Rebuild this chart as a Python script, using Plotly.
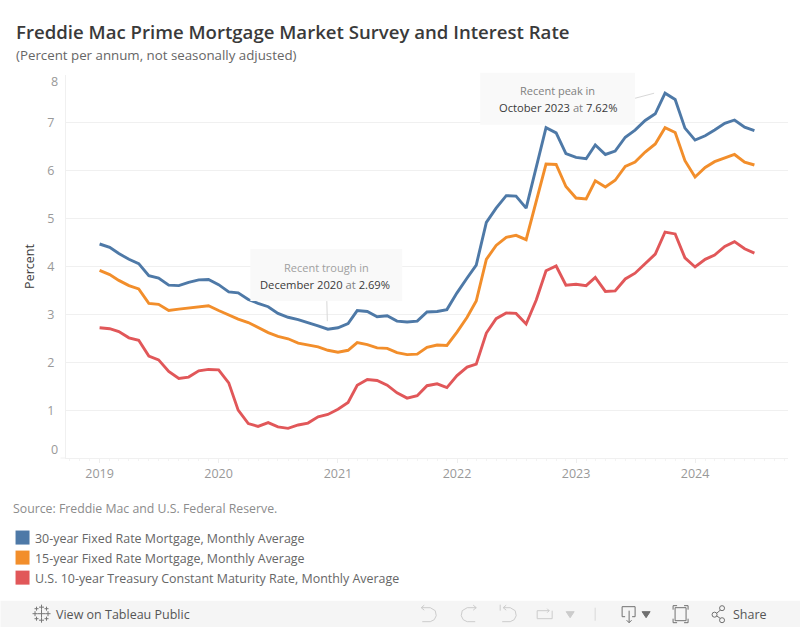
import plotly.graph_objects as go

months = [f"{y}-{m:02d}-01" for y in range(2019, 2025) for m in range(1, 13)][:67]

rate_30 = [4.47,4.40,4.27,4.15,4.06,3.81,3.76,3.61,3.60,3.67,3.72,3.73,
           3.62,3.47,3.45,3.31,3.23,3.16,3.02,2.94,2.89,2.83,2.76,2.69,
           2.72,2.81,3.08,3.06,2.95,2.97,2.86,2.84,2.86,3.05,3.06,3.10,
           3.45,3.76,4.03,4.92,5.22,5.48,5.47,5.22,6.07,6.90,6.79,6.36,
           6.28,6.25,6.54,6.34,6.41,6.70,6.85,7.05,7.19,7.62,7.49,6.89,
           6.64,6.73,6.85,6.99,7.06,6.91,6.84]
rate_15 = [3.92,3.83,3.71,3.60,3.53,3.23,3.21,3.08,3.11,3.13,3.16,3.18,
           3.08,2.98,2.90,2.83,2.72,2.62,2.54,2.49,2.40,2.36,2.32,2.25,
           2.21,2.25,2.41,2.37,2.30,2.29,2.20,2.16,2.17,2.31,2.36,2.35,
           2.63,2.94,3.28,4.15,4.44,4.61,4.65,4.56,5.35,6.14,6.13,5.67,
           5.43,5.41,5.79,5.66,5.80,6.09,6.18,6.39,6.56,6.90,6.80,6.21,
           5.87,6.07,6.19,6.26,6.34,6.18,6.12]
rate_10 = [2.72,2.70,2.64,2.51,2.46,2.13,2.05,1.81,1.66,1.69,1.82,1.85,
           1.84,1.57,1.00,0.72,0.66,0.74,0.65,0.62,0.69,0.73,0.86,0.91,
           1.02,1.16,1.52,1.64,1.62,1.52,1.36,1.25,1.30,1.51,1.55,1.47,
           1.72,1.90,1.96,2.61,2.91,3.03,3.02,2.80,3.30,3.91,4.01,3.61,
           3.63,3.60,3.77,3.48,3.49,3.74,3.86,4.07,4.26,4.72,4.68,4.18,
           3.99,4.15,4.24,4.42,4.52,4.37,4.28]

series_names = ["30-year Fixed Rate Mortgage, Monthly Average",
                "15-year Fixed Rate Mortgage, Monthly Average",
                "U.S. 10-year Treasury Constant Maturity Rate, Monthly Average"]
series_colors = ["#4e79a7", "#f28e2b", "#e15759"]
y_ticks = [1, 2, 3, 4, 5, 6, 7]

FONT = "Open Sans"
L, R, T, B = 65.5, 788.0, 75.3, 457.6
W, H = 800, 627
def px(x): return (x - L) / (R - L)
def py(y): return (B - y) / (B - T)

fig = go.Figure()
for vals, name, col in zip([rate_30, rate_15, rate_10], series_names, series_colors):
    fig.add_trace(go.Scatter(x=months, y=vals, mode="lines", name=name, showlegend=False,
                             line=dict(color=col, width=2.9), hoverinfo="x+y+name"))

shapes, annos = [], []
def rect(x0, y0, x1, y1, fill, layer="above"):
    shapes.append(dict(type="rect", xref="paper", yref="paper", x0=px(x0), x1=px(x1),
                       y0=py(y0), y1=py(y1), fillcolor=fill, line_width=0, layer=layer))
def seg(pts, color="#cfcfcf", width=1.0, close=False, fill=None):
    d = "M " + " L ".join(f"{px(a):.5f},{py(b):.5f}" for a, b in pts) + (" Z" if close else "")
    shapes.append(dict(type="path", xref="paper", yref="paper", path=d, layer="above",
                       line=dict(color=color, width=width), fillcolor=fill))
def text(x, y, s, size, color, anchor="left", weight=None, angle=0):
    f = dict(family=FONT, size=size, color=color)
    if weight: f["weight"] = weight
    annos.append(dict(xref="paper", yref="paper", x=px(x), y=py(y), text=s, showarrow=False,
                      xanchor=anchor, yanchor="middle", font=f, textangle=angle,
                      borderpad=0, borderwidth=0))

# Title block
text(15.5, 32, "Freddie Mac Prime Mortgage Market Survey and Interest Rate", 18.6, "#3a3a3a", weight=600)
text(15.5, 55, "(Percent per annum, not seasonally adjusted)", 13.3, "#666666")

# Clipped end tick labels sit inside the plot in the reference
text(57.5, 82, "8", 12.5, "#999999", "right")
text(57.5, 449, "0", 12.5, "#999999", "right")

# Callouts
rect(480, 73, 635, 125, "#f9f9f9")
seg([(635, 98.5), (654, 93.5)], "#d8d8d8")
text(557, 91, "Recent peak in", 11, "#808080", "center")
text(558, 108, "<span style='color:#3a3a3a'>October 2023</span> at <span style='color:#3a3a3a'>7.62%</span>",
     11.2, "#808080", "center", weight=500)
rect(250, 249, 402, 301, "#f9f9f9")
seg([(326.5, 301), (327, 321)], "#d8d8d8")
text(326, 267, "Recent trough in", 11, "#a0a0a0", "center")
text(325, 284, "<span style='color:#3a3a3a'>December 2020</span> at <span style='color:#3a3a3a'>2.69%</span>",
     11.2, "#808080", "center", weight=500)

# Source and legend
text(12, 508, "Source: Freddie Mac and U.S. Federal Reserve.", 12.3, "#8c8c8c")
for i, (name, col) in enumerate(zip(series_names, series_colors)):
    y0 = 530 + 20 * i
    rect(15, y0, 29, y0 + 14, col)
    text(34, y0 + 7.5, name, 12.45, "#666666")

# Left end of the baseline
seg([(60, B), (L, B)], "#f0f0f0", 1)

# Toolbar
rect(0, 600, 800, 627, "#f5f5f5", layer="below")
text(55, 613.5, "View on Tableau Public", 12.5, "#555555", weight=500)
text(733, 613.5, "Share", 12.5, "#555555", weight=500)
# Tableau mark
for cx, cy, r in [(41, 613, 4), (34.5, 613, 2.5), (47.5, 613, 2.5), (41, 606.5, 2.5), (41, 619.5, 2.5),
                  (36, 608, 2), (46, 608, 2), (36, 618, 2), (46, 618, 2)]:
    seg([(cx - r, cy), (cx + r, cy)], "#777777", 1)
    seg([(cx, cy - r), (cx, cy + r)], "#777777", 1)
# Undo, redo, revert, refresh
grey = "#cccccc"
seg([(421, 607), (430, 607), (435, 610), (436, 615), (434, 619), (430, 621), (422, 621)], grey)
seg([(421, 607), (424, 604.5)], grey); seg([(421, 607), (424, 609.5)], grey)
seg([(476, 607), (467, 607), (462, 610), (461, 615), (463, 619), (467, 621), (475, 621)], grey)
seg([(476, 607), (473, 604.5)], grey); seg([(476, 607), (473, 609.5)], grey)
seg([(503, 607), (510, 607), (515, 610), (516, 615), (514, 619), (510, 621), (502, 621)], grey)
seg([(500, 604), (500, 610)], grey); seg([(503, 607), (506, 604.5)], grey); seg([(503, 607), (506, 609.5)], grey)
seg([(552, 610), (552, 618), (537, 618), (537, 610), (549, 610)], grey)
seg([(549, 610), (547, 608)], grey); seg([(549, 610), (547, 612)], grey)
seg([(566, 611), (574, 611), (570, 617)], grey, close=True, fill=grey)
seg([(595, 607), (595, 620)], "#d8d8d8")
# Download, fullscreen, share
dark = "#707070"
seg([(625, 616), (622, 616), (622, 606), (635, 606), (635, 616), (632, 616)], dark)
seg([(629, 610), (629, 622)], dark); seg([(626.5, 619.5), (629, 622), (631.5, 619.5)], dark)
seg([(642, 611), (650, 611), (646, 617)], dark, close=True, fill=dark)
seg([(675, 607), (686, 607), (686, 620), (675, 620)], dark, close=True)
for a, b, c, d, e, f in [(673, 609, 673, 605, 677, 605), (684, 605, 688, 605, 688, 609),
                         (673, 618, 673, 622, 677, 622), (684, 622, 688, 622, 688, 618)]:
    seg([(a, b), (c, d), (e, f)], dark)
seg([(722, 608), (715, 614), (722, 619)], dark)
for cx, cy in [(722, 607.5), (714.5, 614), (722, 619.5)]:
    shapes.append(dict(type="circle", xref="paper", yref="paper", layer="above",
                       x0=px(cx - 2.5), x1=px(cx + 2.5), y0=py(cy - 2.5), y1=py(cy + 2.5),
                       line=dict(color=dark, width=1), fillcolor="#f5f5f5"))

fig.update_layout(
    width=W, height=H, autosize=False, paper_bgcolor="white", plot_bgcolor="white",
    margin=dict(l=L, r=W - R, t=T, b=H - B, pad=0),
    font=dict(family=FONT, color="#888888"), showlegend=False,
    shapes=shapes, annotations=annos,
    xaxis=dict(type="date", range=["2018-09-20", "2024-10-12"], tick0="2019-01-01", dtick="M12",
               tickformat="%Y", showgrid=False, zeroline=False, showline=True, linecolor="#f0f0f0",
               linewidth=1, ticks="outside", ticklen=4, tickcolor="#eeeeee",
               tickfont=dict(size=12.5, color="#999999", family=FONT),
               minor=dict(dtick="M1", tick0="2019-01-01", ticks="outside", ticklen=2,
                          tickcolor="#f3f3f3", showgrid=False)),
    yaxis=dict(range=[0, 8], tickmode="array", tickvals=y_ticks, ticktext=[str(v) for v in y_ticks],
               gridcolor="#f0f0f0", gridwidth=1, zeroline=False, showline=True, linecolor="#f0f0f0",
               linewidth=1, ticks="", tickfont=dict(size=12.5, color="#999999", family=FONT),
               ticklabelstandoff=8,
               title=dict(text="Percent", font=dict(size=12.5, color="#3a3a3a", family=FONT), standoff=9)),
)
fig.write_html("out.html", config=dict(displayModeBar=False),
               post_script="document.body.style.margin='0';document.documentElement.style.overflow='hidden';")
